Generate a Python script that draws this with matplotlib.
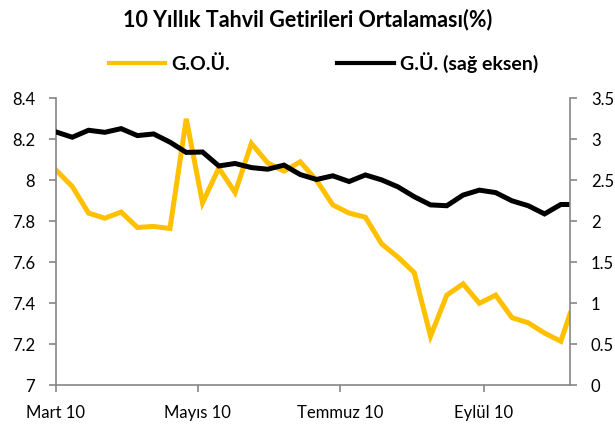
import matplotlib
matplotlib.use("Agg")
import matplotlib.pyplot as plt
import pandas as pd
from matplotlib.lines import Line2D

plt.rcParams['font.family'] = ['Lato', 'DejaVu Sans']

# weekly observations, the last one is a partial week
dates = ["2010-03-01", "2010-03-08", "2010-03-15", "2010-03-22", "2010-03-29",
         "2010-04-05", "2010-04-12", "2010-04-19", "2010-04-26", "2010-05-03",
         "2010-05-10", "2010-05-17", "2010-05-24", "2010-05-31", "2010-06-07",
         "2010-06-14", "2010-06-21", "2010-06-28", "2010-07-05", "2010-07-12",
         "2010-07-19", "2010-07-26", "2010-08-02", "2010-08-09", "2010-08-16",
         "2010-08-23", "2010-08-30", "2010-09-06", "2010-09-13", "2010-09-20",
         "2010-09-27", "2010-10-04", "2010-10-08"]

gou = [8.05, 7.97, 7.84, 7.815, 7.845, 7.77, 7.775, 7.765, 8.30, 7.89,
       8.06, 7.94, 8.18, 8.085, 8.045, 8.09, 8.00, 7.88, 7.84, 7.82,
       7.69, 7.625, 7.55, 7.24, 7.44, 7.495, 7.40, 7.44, 7.33, 7.305,
       7.255, 7.215, 7.35]

gu = [3.09, 3.025, 3.11, 3.085, 3.13, 3.045, 3.065, 2.965, 2.84, 2.845,
      2.675, 2.705, 2.655, 2.635, 2.685, 2.57, 2.51, 2.555, 2.485, 2.565,
      2.505, 2.42, 2.30, 2.20, 2.19, 2.32, 2.38, 2.35, 2.25, 2.19,
      2.09, 2.205, 2.205]

tick_dates = ["2010-03-01", "2010-05-01", "2010-07-01", "2010-09-01"]
tick_labels = ["Mart 10", "Mayıs 10", "Temmuz 10", "Eylül 10"]

yellow = '#FFC000'
grey = '#868686'

x = pd.to_datetime(dates)

fig = plt.figure(figsize=(6.15, 4.32), dpi=100)
ax = fig.add_axes([0.091, 0.108, 0.836, 0.6645])
ax2 = ax.twinx()

ax.plot(x, gou, color=yellow, lw=3.6, solid_joinstyle='miter')
ax2.plot(x, gu, color='black', lw=3.6, solid_joinstyle='miter')

ax.set_xlim(x[0], x[-1])
ax.set_ylim(7, 8.4)
ax2.set_ylim(0, 3.5)
ax.set_yticks([7, 7.2, 7.4, 7.6, 7.8, 8, 8.2, 8.4])
ax.set_yticklabels(['7', '7.2', '7.4', '7.6', '7.8', '8', '8.2', '8.4'])
ax2.set_yticks([0, 0.5, 1, 1.5, 2, 2.5, 3, 3.5])
ax2.set_yticklabels(['0', '0.5', '1', '1.5', '2', '2.5', '3', '3.5'])
ax.set_xticks(pd.to_datetime(tick_dates))
ax.set_xticklabels(tick_labels)

for a in (ax, ax2):
    a.spines['top'].set_visible(False)
    for s in ('left', 'right', 'bottom'):
        a.spines[s].set_color(grey)
        a.spines[s].set_linewidth(1.2)
    a.tick_params(colors=grey, labelcolor='black', labelsize=12,
                  length=5, width=1.2, direction='out')
ax.spines['right'].set_visible(False)
ax2.spines['left'].set_visible(False)
ax2.spines['bottom'].set_visible(False)
ax.tick_params(axis='y', pad=10)
ax.tick_params(axis='x', pad=9)
ax2.tick_params(axis='y', pad=10)

fig.text(0.5, 0.955, "10 Yıllık Tahvil Getirileri Ortalaması(%)",
         ha='center', va='center', fontsize=15.5, fontweight='bold')

handles = [Line2D([], [], color=yellow, lw=3),
           Line2D([], [], color='black', lw=3)]
fig.legend(handles, ["G.O.Ü.", "G.Ü. (sağ eksen)"], loc='center',
           bbox_to_anchor=(0.526, 0.856), ncol=2, frameon=False,
           prop={'weight': 'bold', 'size': 14}, handlelength=2.9,
           handletextpad=0.32, columnspacing=5.5)

fig.savefig("out.png", dpi=100)
